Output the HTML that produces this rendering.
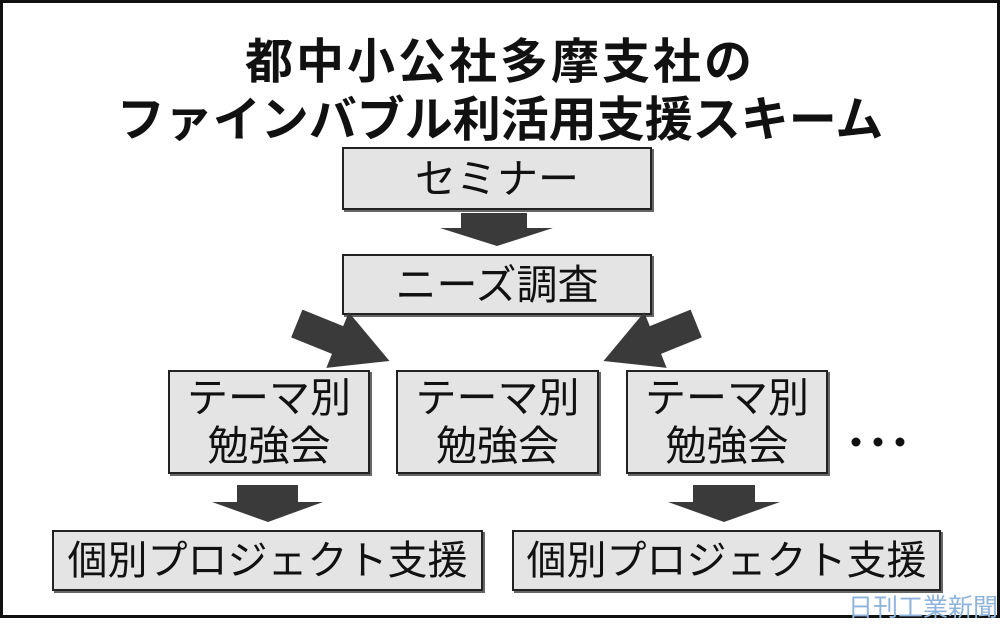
<!DOCTYPE html>
<html><head><meta charset="utf-8"><style>
body{margin:0;width:1000px;height:618px;background:#fff;overflow:hidden;position:relative;font-family:"Liberation Sans","Noto Sans CJK JP",sans-serif}
.frame{position:absolute;left:0;top:0;width:994px;height:612px;border:3px solid #111}
.t{position:absolute;left:0;width:1000px;text-align:center;font-weight:bold;font-size:48px;color:#111;white-space:nowrap}
.b{position:absolute;box-sizing:border-box;border:2px solid #222;background:#e4e4e4;box-shadow:2px 2px 0 #666;display:flex;align-items:center;justify-content:center;text-align:center;color:#111;font-size:41px;line-height:48px;white-space:nowrap}
svg{position:absolute;left:0;top:0}
</style></head><body>
<div class="frame"></div>
<div class="t" style="top:22px;letter-spacing:3px">都中小公社多摩支社の</div>
<div class="t" style="top:80px;letter-spacing:0px">ファインバブル利活用支援スキーム</div>
<div class="b" style="left:342px;top:147px;width:310px;height:63px">セミナー</div>
<div class="b" style="left:342px;top:254px;width:310px;height:61px">ニーズ調査</div>
<div class="b" style="left:168px;top:370px;width:202px;height:104px">テーマ別<br>勉強会</div>
<div class="b" style="left:396px;top:370px;width:203px;height:104px">テーマ別<br>勉強会</div>
<div class="b" style="left:626px;top:370px;width:202px;height:104px">テーマ別<br>勉強会</div>
<div class="b" style="left:52px;top:530px;width:431px;height:61px;font-size:40px">個別プロジェクト支援</div>
<div class="b" style="left:512px;top:530px;width:429px;height:61px;font-size:40px">個別プロジェクト支援</div>
<svg width="1000" height="618" fill="#3a3a3a">
<circle cx="856" cy="442" r="4.5" fill="#111"/><circle cx="878" cy="442" r="4.5" fill="#111"/><circle cx="900" cy="442" r="4.5" fill="#111"/>
<polygon points="461,213 527,213 527,228 553,228 497,246 440,228 461,228"/>
<polygon points="237,485 298,485 298,502 323,502 268,522 212,502 237,502"/>
<polygon points="693,485 755,485 755,502 780,502 724,522 668,502 693,502"/>
<g transform="translate(345,343) rotate(22)"><polygon points="-52,-15 -8,-15 -8,-30 48,0 -8,30 -8,15 -52,15"/></g>
<g transform="translate(648,343) rotate(158)"><polygon points="-52,-15 -8,-15 -8,-30 48,0 -8,30 -8,15 -52,15"/></g>
</svg>
<div style="position:absolute;left:848px;top:588px;font-size:25px;color:#8fb4dc">日刊工業新聞</div>
</body></html>
